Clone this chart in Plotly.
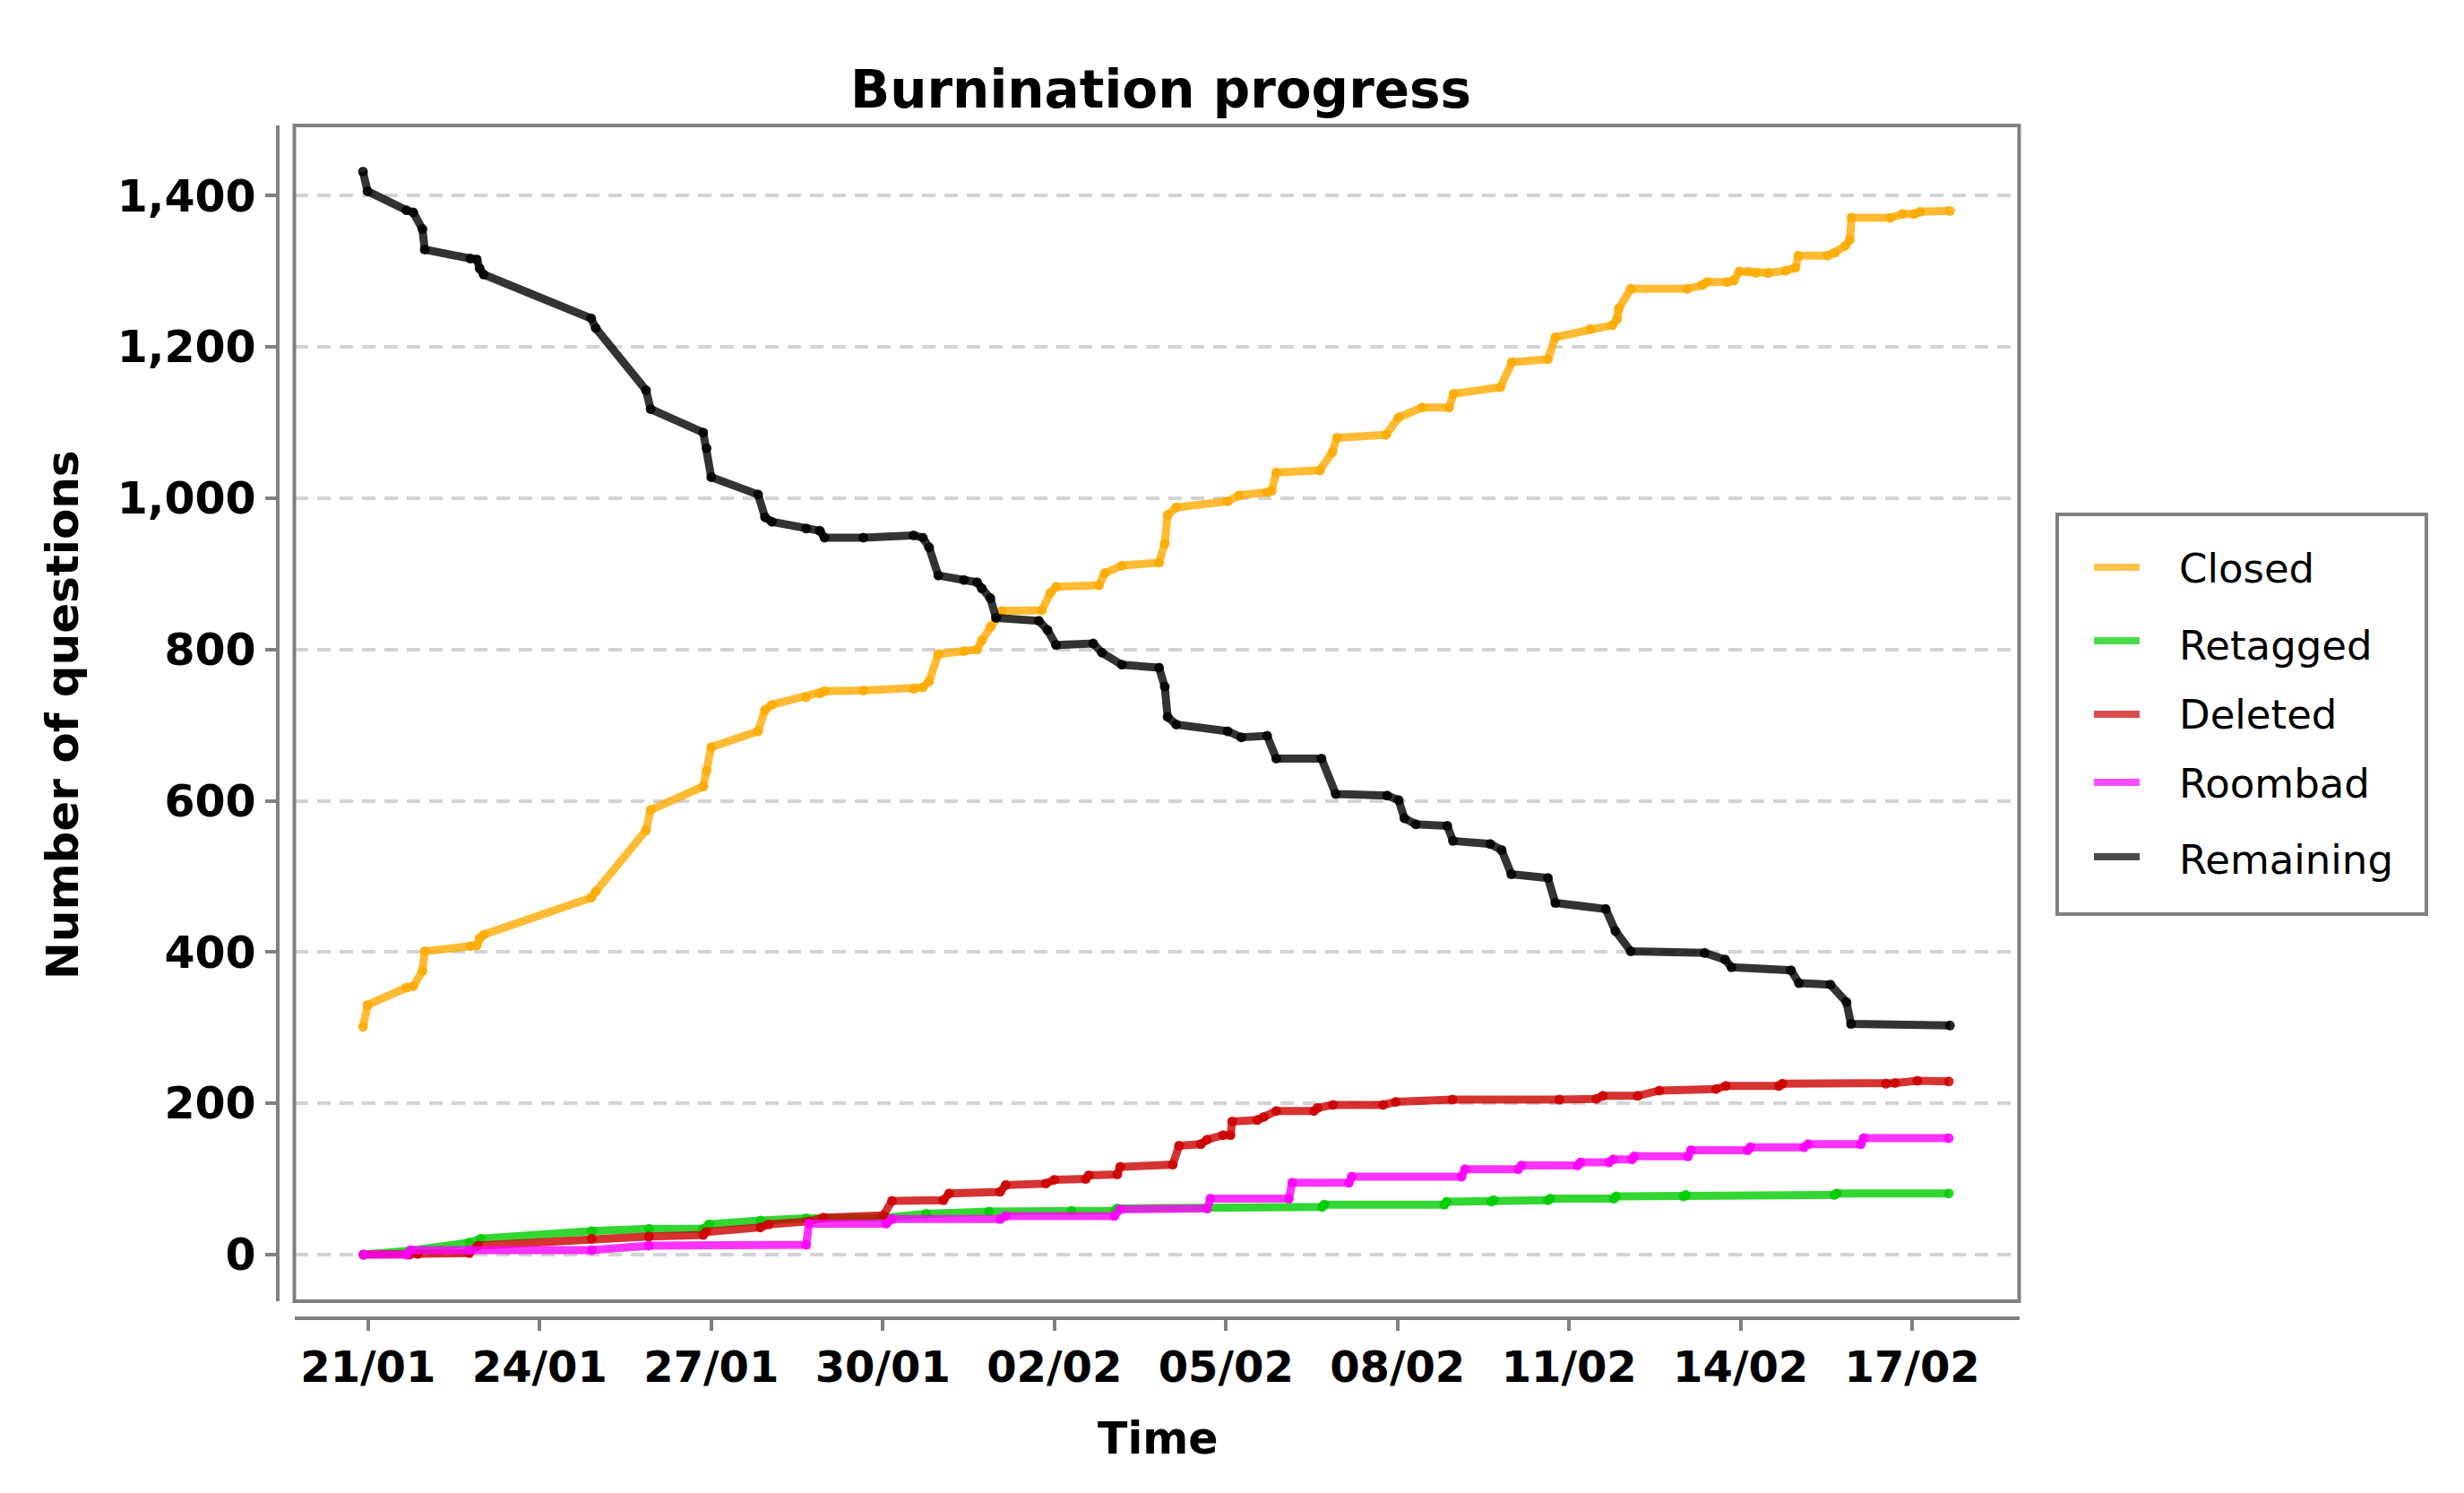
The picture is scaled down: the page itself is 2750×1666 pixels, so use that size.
import pandas as pd
import plotly.graph_objects as go

# ---------------- data (days since 21/01, values) ----------------
BASE = pd.Timestamp("2019-01-21")

remaining_days = [-0.09, -0.01, 0.67, 0.79, 0.95, 0.99, 1.79, 1.90, 1.95, 2.02, 3.90, 3.98, 4.86, 4.94,
                  5.86, 5.92, 6.00, 6.82, 6.94, 7.06, 7.66, 7.90, 7.98, 8.66, 9.54, 9.70, 9.81, 9.97,
                  10.42, 10.65, 10.73, 10.88, 10.98, 11.73, 11.88, 12.03, 12.68, 12.83, 13.18, 13.83,
                  13.93, 13.98, 14.13, 15.03, 15.27, 15.72, 15.88, 16.67, 16.92, 17.82, 18.02, 18.12,
                  18.32, 18.87, 18.97, 19.62, 19.82, 19.99, 20.63, 20.76, 21.64, 21.81, 22.08, 23.37,
                  23.73, 23.84, 24.88, 25.02, 25.57, 25.85, 25.93, 27.66]
remaining_vals = [1432, 1406, 1381, 1378, 1356, 1329, 1317, 1316, 1304, 1296, 1238, 1225, 1143, 1118,
                  1087, 1066, 1028, 1005, 975, 969, 960, 957, 948, 948, 951, 948, 935, 898,
                  892, 889, 881, 868, 842, 838, 826, 806, 808, 796, 780, 776,
                  751, 711, 701, 692, 684, 686, 656, 656, 609, 607, 601, 577,
                  569, 567, 547, 543, 535, 503, 498, 465, 457, 428, 401, 399,
                  390, 380, 376, 359, 357, 334, 305, 303]

closed_days = [-0.09, -0.01, 0.67, 0.79, 0.95, 0.99, 1.79, 1.90, 1.95, 2.02, 3.90, 3.98, 4.86, 4.94,
               5.86, 5.92, 6.00, 6.82, 6.94, 7.06, 7.66, 7.90, 7.98, 8.66, 9.54, 9.70, 9.81, 9.97,
               10.42, 10.65, 10.73, 10.88, 10.98, 11.08, 11.78, 11.93, 12.03, 12.78, 12.88, 13.18,
               13.83, 13.93, 13.98, 14.13, 15.03, 15.23, 15.72, 15.80, 15.88, 16.64, 16.86, 16.94,
               17.80, 18.02, 18.43, 18.90, 18.98, 19.80, 20.00, 20.63, 20.76, 21.37, 21.76, 21.84,
               21.87, 22.08, 23.07, 23.33, 23.41, 23.77, 23.88, 23.98, 24.13, 24.27, 24.48, 24.79,
               24.96, 25.01, 25.52, 25.65, 25.83, 25.91, 25.94, 26.62, 26.83, 27.04, 27.14, 27.66]
closed_vals = [301, 330, 353, 355, 375, 401, 408, 409, 418, 423, 472, 480, 561, 588,
               619, 640, 671, 692, 720, 727, 737, 742, 745, 746, 748, 750, 758, 794,
               798, 800, 812, 830, 842, 851, 852, 875, 883, 885, 901, 911,
               915, 940, 978, 988, 996, 1004, 1008, 1010, 1034, 1037, 1061, 1080,
               1084, 1107, 1120, 1120, 1138, 1147, 1180, 1184, 1213, 1224, 1229, 1237,
               1251, 1277, 1277, 1282, 1286, 1286, 1288, 1300, 1300, 1298, 1298, 1301,
               1305, 1321, 1321, 1325, 1334, 1342, 1371, 1371, 1376, 1376, 1379, 1380]

retagged_days = [-0.08, 0.72, 1.77, 1.97, 3.91, 4.91, 5.86, 5.96, 6.86, 7.66, 9.06, 9.76, 10.86, 12.30,
                 13.06, 13.10, 16.68, 16.72, 18.82, 18.86, 19.64, 19.68, 20.63, 20.67, 21.78, 21.82,
                 23.00, 23.04, 25.64, 25.68, 27.64]
retagged_vals = [0, 5, 16, 21, 31, 34, 34, 40, 45, 48, 49, 54, 57, 58,
                 58, 61, 63, 66, 66, 70, 70, 72, 72, 74, 74, 77,
                 77, 79, 79, 81, 81]

deleted_days = [-0.08, 0.72, 0.87, 1.77, 1.92, 3.91, 4.91, 5.86, 5.91, 6.86, 7.00, 7.71, 7.96, 9.01,
                9.16, 10.06, 10.16, 11.05, 11.15, 11.85, 12.00, 12.55, 12.60, 13.10, 13.15, 14.07,
                14.18, 14.56, 14.67, 14.95, 15.08, 15.11, 15.55, 15.66, 15.88, 16.54, 16.60, 16.87,
                17.75, 17.97, 18.96, 20.83, 21.48, 21.59, 22.20, 22.58, 23.57, 23.74, 24.67, 24.73,
                26.54, 26.70, 27.09, 27.64]
deleted_vals = [0, 0, 1, 2, 12, 21, 24, 26, 30, 36, 40, 44, 49, 52,
                71, 72, 81, 83, 92, 94, 99, 100, 105, 106, 116, 119,
                144, 146, 152, 158, 158, 176, 178, 182, 190, 190, 194, 198,
                198, 202, 205, 205, 206, 210, 210, 217, 219, 223, 223, 226,
                226, 227, 230, 229]

roombad_days = [-0.08, 0.67, 0.75, 1.77, 3.91, 4.91, 7.66, 7.71, 9.06, 9.16, 11.05, 11.15, 13.05, 13.15,
                14.67, 14.73, 16.10, 16.16, 17.15, 17.20, 19.12, 19.18, 20.11, 20.17, 21.15, 21.20,
                21.70, 21.77, 22.10, 22.14, 23.08, 23.13, 24.12, 24.17, 25.11, 25.18, 26.10, 26.15, 27.64]
roombad_vals = [0, 0, 6, 6, 6, 12, 13, 41, 41, 47, 47, 51, 51, 60,
                61, 74, 74, 95, 95, 103, 103, 113, 113, 118, 118, 122,
                122, 126, 126, 130, 130, 138, 138, 142, 142, 146, 146, 154, 154]

series_names = ["Closed", "Retagged", "Deleted", "Roombad", "Remaining"]
series_colors = ["255,170,0", "0,204,0", "204,0,0", "255,0,255", "0,0,0"]
series_days = [closed_days, retagged_days, deleted_days, roombad_days, remaining_days]
series_vals = [closed_vals, retagged_vals, deleted_vals, roombad_vals, remaining_vals]

y_ticks = [0, 200, 400, 600, 800, 1000, 1200, 1400]
x_tick_days = [0, 3, 6, 9, 12, 15, 18, 21, 24, 27]


def to_dt(days):
    return [BASE + pd.Timedelta(days=d) for d in days]


# ---------------- layout geometry (page pixel -> paper fraction) ----------------
W, H = 2750, 1666
OFF = 8  # default page body margin
ML, MR, MT, MB = 270, 480, 130, 180
PW, PH = W - ML - MR, H - MT - MB


def px(X):
    return (X - OFF - ML) / PW


def py(Y):
    return (H - MB - (Y - OFF)) / PH


FONT = "DejaVu Sans"
GREY = "#808080"

fig = go.Figure()
for name, col, d, v in zip(series_names, series_colors, series_days, series_vals):
    xs = to_dt(d)
    fig.add_trace(go.Scatter(
        x=xs, y=v, mode="lines", name=name, showlegend=False,
        line=dict(color=f"rgba({col},0.8)", width=9),
    ))
    fig.add_trace(go.Scatter(
        x=xs, y=v, mode="markers", name=name, showlegend=False,
        marker=dict(color=f"rgba({col},0.85)", size=11, line=dict(width=0)),
    ))

# ---------------- legend (drawn as shapes + text) ----------------
leg_line_y = [633, 715, 797, 873, 956]
leg_text_y = [634, 720, 797, 874, 960]
shapes = [dict(type="rect", xref="x domain", yref="y domain", x0=0, x1=1, y0=0, y1=1,
               line=dict(color=GREY, width=4), layer="above"),
          dict(type="rect", xref="paper", yref="paper", x0=px(2296), x1=px(2708),
               y0=py(1020), y1=py(574), line=dict(color=GREY, width=4), fillcolor="white")]
annotations = []
for name, col, ly, ty in zip(series_names, series_colors, leg_line_y, leg_text_y):
    shapes.append(dict(type="line", xref="paper", yref="paper", x0=px(2337), x1=px(2388),
                       y0=py(ly), y1=py(ly), line=dict(color=f"rgba({col},0.7)", width=8)))
    annotations.append(dict(text=name, x=px(2430), y=py(ty), xref="paper", yref="paper",
                            showarrow=False, xanchor="left", yanchor="middle",
                            font=dict(family=FONT, size=45, color="black")))

annotations += [
    dict(text="Burnination progress", x=px(1295), y=py(100), xref="paper", yref="paper",
         showarrow=False, xanchor="center", yanchor="middle",
         font=dict(family=FONT, size=58, color="black", weight="bold")),
    dict(text="Time", x=px(1292), y=py(1605), xref="paper", yref="paper",
         showarrow=False, xanchor="center", yanchor="middle",
         font=dict(family=FONT, size=49, color="black", weight="bold")),
    dict(text="Number of questions", x=px(70), y=py(798), xref="paper", yref="paper",
         showarrow=False, xanchor="center", yanchor="middle", textangle=-90,
         font=dict(family=FONT, size=50, color="black", weight="bold")),
]

fig.update_layout(
    width=W, height=H,
    margin=dict(l=ML, r=MR, t=MT, b=MB, autoexpand=False),
    paper_bgcolor="white", plot_bgcolor="white",
    font=dict(family=FONT, color="black"),
    showlegend=False,
    xaxis=dict(
        type="date", domain=[px(328.5), px(2253.5)], anchor="free", position=py(1470.5),
        range=to_dt([-1.29, 28.87]),
        showline=True, linecolor=GREY, linewidth=4,
        ticks="outside", ticklen=12, tickwidth=4, tickcolor=GREY,
        tickvals=to_dt(x_tick_days), tickformat="%d/%m",
        tickfont=dict(family=FONT, size=48, color="black", weight="bold"),
        showgrid=False, zeroline=False, automargin=False,
    ),
    yaxis=dict(
        domain=[py(1452), py(140)], anchor="free", position=px(309.5),
        range=[-61.6, 1493],
        showline=True, linecolor=GREY, linewidth=4,
        ticks="outside", ticklen=12, tickwidth=4, tickcolor=GREY,
        tickvals=y_ticks, tickformat=",d",
        tickfont=dict(family=FONT, size=49, color="black", weight="bold"),
        showgrid=True, gridcolor="#d3d3d3", gridwidth=4, griddash="15px,10px",
        zeroline=False, automargin=False,
    ),
    shapes=shapes,
    annotations=annotations,
)

fig.write_html("out.html")
